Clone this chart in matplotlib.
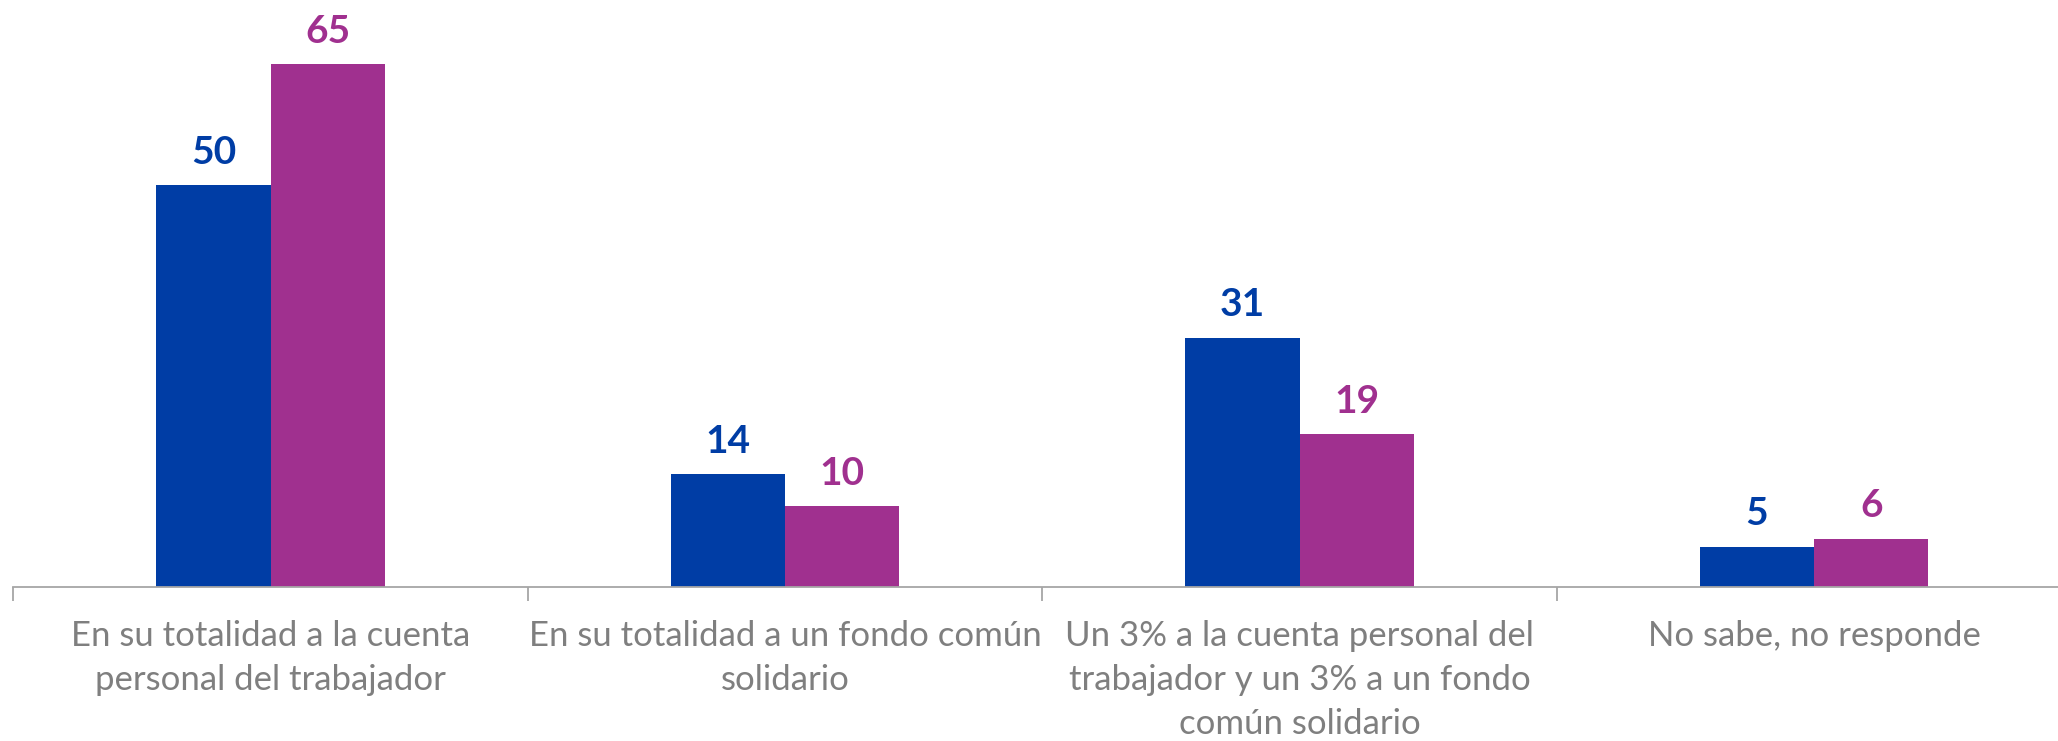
import numpy as np
import matplotlib
matplotlib.use("Agg")
import matplotlib.pyplot as plt

categories = [
    "En su totalidad a la cuenta\npersonal del trabajador",
    "En su totalidad a un fondo común\nsolidario",
    "Un 3% a la cuenta personal del\ntrabajador y un 3% a un fondo\ncomún solidario",
    "No sabe, no responde",
]
serie_a = [50, 14, 31, 5]
serie_b = [65, 10, 19, 6]

blue = "#003DA5"
purple = "#A0308F"

plt.rcParams["font.family"] = ["Lato", "DejaVu Sans"]

fig = plt.figure(figsize=(20.58, 7.41), dpi=100)
ax = fig.add_axes([0.0065, 0.208, 1.0, 0.792])

x = np.arange(len(categories))
w = 0.222
bars_a = ax.bar(x - w / 2, serie_a, w, color=blue)
bars_b = ax.bar(x + w / 2, serie_b, w, color=purple)

for bars, vals, col in ((bars_a, serie_a, blue), (bars_b, serie_b, purple)):
    for b, v in zip(bars, vals):
        ax.annotate(str(v), (b.get_x() + b.get_width() / 2, v),
                    xytext=(0, 11), textcoords="offset points",
                    ha="center", va="bottom", fontsize=28, fontweight="bold", color=col)

ax.set_xlim(-0.5, len(categories) - 0.5)
ax.set_ylim(0, 73)
ax.set_xticks(x)
ax.set_xticklabels(categories, fontsize=25, color="#7f7f7f", linespacing=1.45)
ax.tick_params(axis="x", which="major", length=0, pad=24)
ax.set_xticks(np.arange(len(categories) + 1) - 0.5, minor=True)
ax.tick_params(axis="x", which="minor", length=10, color="#a6a6a6", width=1.3)
ax.set_yticks([])
for s in ("top", "right", "left"):
    ax.spines[s].set_visible(False)
ax.spines["bottom"].set_color("#a6a6a6")
ax.spines["bottom"].set_linewidth(1.3)

fig.savefig("out.png", dpi=100)
